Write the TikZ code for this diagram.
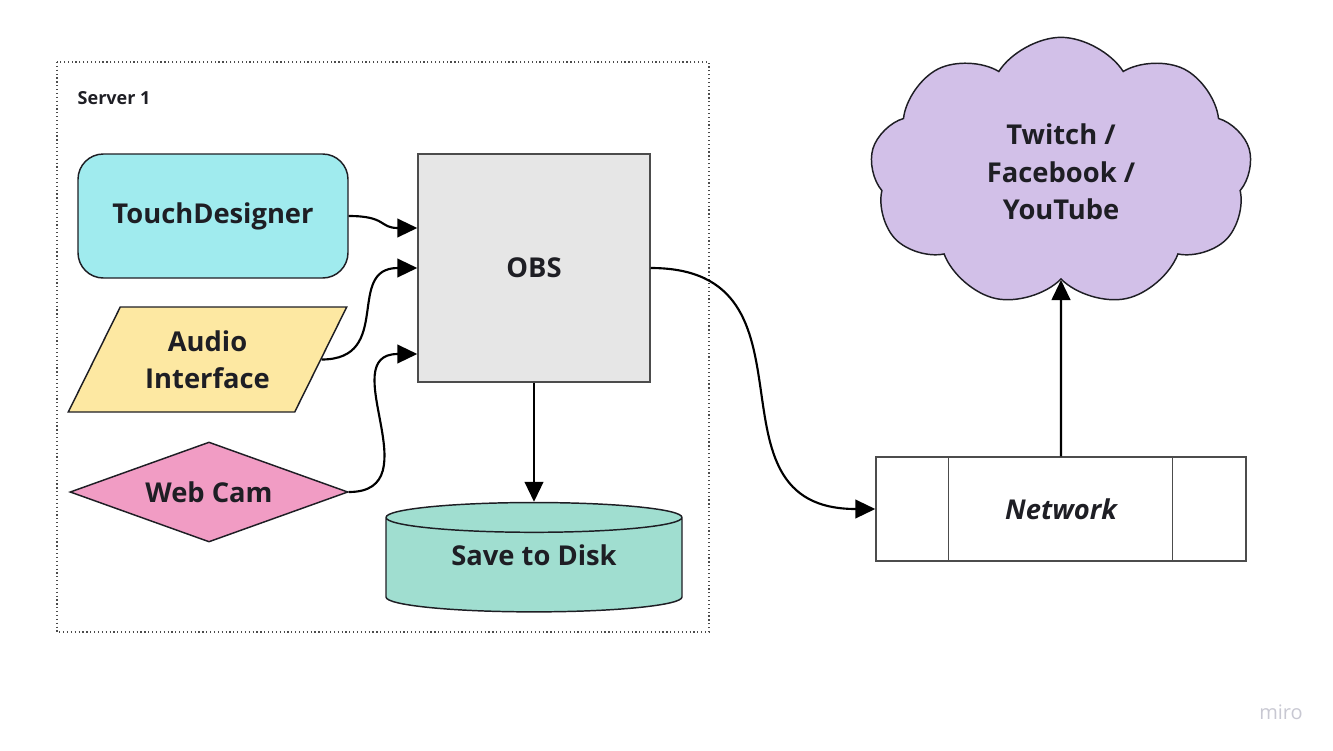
\documentclass[tikz,border=0pt]{standalone}
\usepackage{fontspec}
\setmainfont{Open Sans}
\usetikzlibrary{arrows.meta,shapes.geometric,shapes.symbols}
\definecolor{inkcol}{HTML}{1E1E24}
\definecolor{tdcol}{HTML}{A0EBEE}
\definecolor{audiocol}{HTML}{FDE8A2}
\definecolor{camcol}{HTML}{F19CC4}
\definecolor{obscol}{HTML}{E6E6E6}
\definecolor{diskcol}{HTML}{A0DED0}
\definecolor{cloudcol}{HTML}{D2C0E8}
\definecolor{mirocol}{HTML}{C8C8D2}
\begin{document}
\begin{tikzpicture}[x=0.75pt,y=-0.75pt]
        \tikzset{
            member/.style={
                    draw=inkcol,
                    line width=1.1pt,
                    inner sep=0pt,
                    align=center,
                    text=inkcol,
                    font=\fontsize{20.5}{28}\selectfont\bfseries,
                },
            connection/.style={-{Triangle[length=15pt,width=14pt]}, line width=1.6pt, looseness=1.4},
            frame/.style={draw=black!70, dotted, line width=0.9pt},
        }
        \useasboundingbox (0,0) rectangle (1333,750);
        % \draw (0, 0) grid (1333, 750);
        \draw[frame] (57,62) rectangle (709,632);
        \node[text=inkcol, font=\fontsize{13.5}{16}\selectfont\bfseries, anchor=west] (srvlabel) at (73,98) {Server 1};
        \node[member, rectangle, rounded corners=19pt, fill=tdcol, minimum width=202.5pt, minimum height=93pt] (touch) at (213,216) {TouchDesigner};
        \node[member, trapezium, trapezium left angle=57.5, trapezium right angle=122.5, trapezium stretches=true, fill=audiocol, minimum width=209.25pt, minimum height=78.75pt] (audio) at (207.5,359.5) {Audio\\Interface};
        \node[member, diamond, aspect=2.78, fill=camcol, minimum width=208.5pt, minimum height=75pt] (cam) at (209,492) {Web Cam};
        \node[member, rectangle, draw=black!70, fill=obscol, minimum width=174pt, minimum height=171pt] (obs) at (534,268) {OBS};
        \node[member, cylinder, shape border rotate=90, aspect=0.18, fill=diskcol, minimum width=222pt, minimum height=82pt, text height=15pt, text depth=15pt] (disk) at (534,565) {Save to Disk};
        \node[member, cloud, cloud puffs=9, cloud puff arc=115, fill=cloudcol, minimum width=286.5pt, minimum height=202pt] (cloud) at (1061,172) {Twitch /\\Facebook /\\YouTube};
        \node[member, rectangle, draw=black!70, font=\fontsize{20.5}{28}\selectfont\bfseries\itshape, minimum width=277.5pt, minimum height=78pt] (net) at (1061,509) {Network};
        \draw[draw=black!70, line width=1.1pt] ([xshift=54.75pt]net.north west) -- ([xshift=54.75pt]net.south west);
        \draw[draw=black!70, line width=1.1pt] ([xshift=-55.5pt]net.north east) -- ([xshift=-55.5pt]net.south east);
        \node[text=mirocol, font=\fontsize{15}{18}\selectfont] (miro) at (1281,712) {miro};
        \draw[connection] (touch.east) to[out=0, in=180] ([yshift=30pt]obs.west);
        \draw[connection] (audio.east) to[out=0, in=180] (obs.west);
        \draw[connection] (cam.east) to[out=0, in=180] ([yshift=-64.5pt]obs.west);
        \draw[connection] (obs.south) -- (disk.north);
        \draw[connection] (obs.east) to[out=0, in=180] (net.west);
        \draw[connection] (net.north) -- (cloud.south);
    \end{tikzpicture}
\end{document}
